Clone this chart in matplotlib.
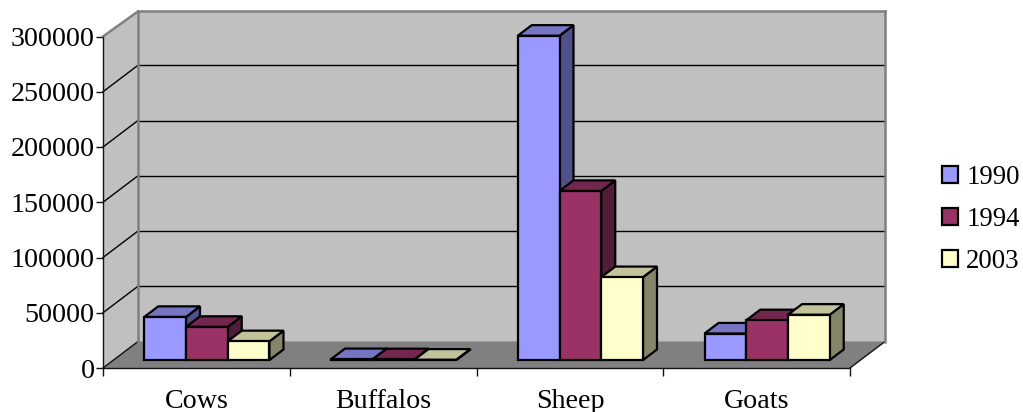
import matplotlib
matplotlib.use("Agg")
import matplotlib.pyplot as plt
from matplotlib.patches import Polygon, Patch

categories = ["Cows", "Buffalos", "Sheep", "Goats"]
years = ["1990", "1994", "2003"]
values_1990 = [39000, 800, 293500, 24000]
values_1994 = [30000, 700, 153000, 36000]
values_2003 = [17000, 300, 75000, 41000]
yticks = [0, 50000, 100000, 150000, 200000, 250000, 300000]

FRONT = ["#9999FF", "#993366", "#FFFFCC"]
TOP = ["#7575C4", "#74274E", "#C2C29B"]
SIDE = ["#50508A", "#521B38", "#85856A"]

plt.rcParams["font.family"] = ["Liberation Serif", "DejaVu Serif"]
FS = 20.2

W, H = 1023, 412
fig = plt.figure(figsize=(W / 100, H / 100), dpi=100)
ax = fig.add_axes([103 / W, (H - 368) / H, 747 / W, 331.5 / H])
ax.set_xlim(0, 4)
ax.set_ylim(0, 300000)
ax.patch.set_visible(False)

# oblique depth: one full depth unit shifts a point by these data amounts
DX = 35 / (747 / 4)
DY = 26.5 / (331.5 / 300000)


def P(x, v, d=0.0):
    return (x + d * DX, v + d * DY)


def poly(pts, fc, ec="none", lw=0.0, z=1):
    ax.add_patch(Polygon(pts, closed=True, facecolor=fc, edgecolor=ec, linewidth=lw,
                         joinstyle="miter", clip_on=False, zorder=z))


def line(a, b, color, lw, z=1.5):
    ax.plot([a[0], b[0]], [a[1], b[1]], color=color, lw=lw, clip_on=False, zorder=z,
            solid_capstyle="projecting")


xmax, vmax = 4, yticks[-1]
vtop = vmax - 1300  # the wall's upper rim sits slightly under the top tick's depth line
# walls and floor
poly([P(0, 0), P(0, vmax), P(0, vtop, 1), P(0, 0, 1)], "#C0C0C0")
poly([P(0, 0, 1), P(0, vtop, 1), P(xmax, vtop, 1), P(xmax, 0, 1)], "#C0C0C0")
poly([P(0, 0), P(xmax, 0), P(xmax, 0, 1), P(0, 0, 1)], "#808080")
for v in yticks[1:-1]:
    line(P(0, v), P(0, v, 1), "#000000", 1.0)
    line(P(0, v, 1), P(xmax, v, 1), "#000000", 1.0)
line(P(0, 0), P(0, 0, 1), "#111111", 1.0)
line(P(xmax, 0), P(xmax, 0, 1), "#111111", 1.0)
for a, b in [(P(0, 0, 1), P(0, vtop, 1)), (P(0, vtop, 1), P(xmax, vtop, 1)),
             (P(xmax, vtop, 1), P(xmax, 0, 1)), (P(0, vmax), P(0, vtop, 1))]:
    line(a, b, "#808080", 1.8, 1.6)

# bars
BW = 0.2235
D0, D1 = 0.30, 0.70
series = [values_1990, values_1994, values_2003]
z = 3
for c in range(len(categories)):
    left0 = c + 0.5 - 1.5 * BW
    for s, vals in enumerate(series):
        v = vals[c]
        x0, x1 = left0 + s * BW, left0 + (s + 1) * BW
        kw = dict(ec="black", lw=1.6)
        poly([P(x1, 0, D0), P(x1, 0, D1), P(x1, v, D1), P(x1, v, D0)], SIDE[s], z=z, **kw)
        poly([P(x0, v, D0), P(x1, v, D0), P(x1, v, D1), P(x0, v, D1)], TOP[s], z=z + 0.1, **kw)
        poly([P(x0, 0, D0), P(x1, 0, D0), P(x1, v, D0), P(x0, v, D0)], FRONT[s], z=z + 0.2, **kw)
        z += 1

# axes
for name in ("top", "right"):
    ax.spines[name].set_visible(False)
for name in ("left", "bottom"):
    ax.spines[name].set_linewidth(1.0)
    ax.spines[name].set_color("#111111")
    ax.spines[name].set_zorder(2)
ax.set_yticks(yticks)
ax.set_yticklabels([str(v) for v in yticks], fontsize=FS)
ax.set_xticks(range(5))
ax.set_xticklabels([])
ax.set_xticks([i + 0.5 for i in range(4)], labels=categories, minor=True, fontsize=FS)
ax.tick_params(axis="y", length=5, width=1.0, pad=1, color="#111111")
ax.tick_params(axis="x", which="major", length=6, width=1.0, color="#111111")
ax.tick_params(axis="x", which="minor", length=0, pad=15)

handles = [Patch(facecolor=FRONT[i], edgecolor="black", linewidth=1.6, label=years[i])
           for i in range(3)]
LFS = 19.3
fig.legend(handles=handles, loc="center left", bbox_to_anchor=(941.5 / W, (H - 219.5) / H),
           frameon=False, fontsize=LFS, handlelength=0.63, handleheight=0.61,
           handletextpad=0.29, labelspacing=0.64, borderpad=0, borderaxespad=0)

fig.savefig("out.png", dpi=100)
